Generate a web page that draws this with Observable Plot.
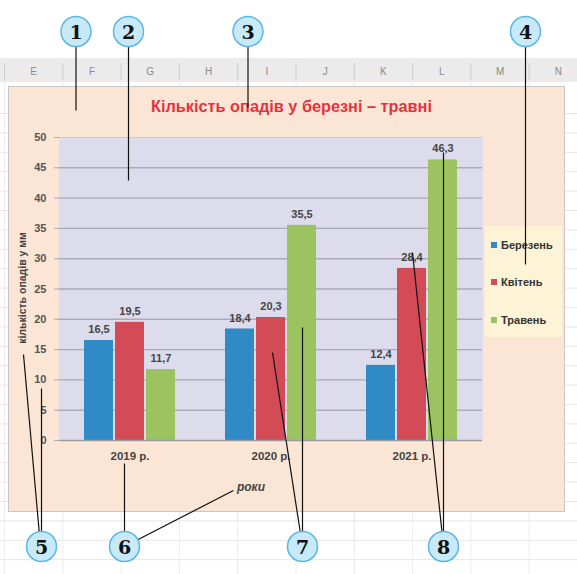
<!DOCTYPE html>
<html><head><meta charset="utf-8">
<script src="https://cdn.jsdelivr.net/npm/d3@7"></script>
<script src="https://cdn.jsdelivr.net/npm/@observablehq/plot@0.6"></script>
<style>
html,body{margin:0;padding:0;background:#fff;}
#page{position:relative;width:577px;height:574px;overflow:hidden;background:#fff;font-family:"Liberation Sans",Arial,sans-serif;}
#page > *{position:absolute;left:0;top:0;}
#area{left:8px !important;top:86px !important;width:555px;height:424px;background:#fbe5d5;border:1.5px solid #cbc6c1;}
#title{left:8px !important;top:97px !important;width:557px;text-align:center;padding-left:10px;box-sizing:border-box;color:#e3343e;font-weight:bold;font-size:16.3px;}
#ytitle{left:22px !important;top:288px !important;transform:translate(-50%,-50%) rotate(-90deg);white-space:nowrap;font-weight:bold;font-size:10.5px;color:#444;}
#xtitle{left:251px !important;top:487px !important;transform:translate(-50%,-50%);white-space:nowrap;font-weight:bold;font-style:italic;font-size:12px;color:#444;}
#legend{left:485px !important;top:226px !important;width:77px;height:111px;background:#fdf3d6;}
#legend .item{height:37.5px;display:flex;align-items:center;padding-left:6px;font-weight:bold;font-size:11px;color:#333;}
#legend .sw{width:6px;height:6px;margin-right:4px;}
</style></head><body><div id="page"></div>
<script>
// ---- data ----
const years = ["2019 р.", "2020 р.", "2021 р."];
const months = ["Березень", "Квітень", "Травень"];
const march = [16.5, 18.4, 12.4];
const april = [19.5, 20.3, 28.4];
const may = [11.7, 35.5, 46.3];
const yTicks = [0, 5, 10, 15, 20, 25, 30, 35, 40, 45, 50];
const monthColors = ["#2f8ac6", "#d24b57", "#9bc461"];
const columnLetters = ["E", "F", "G", "H", "I", "J", "K", "L", "M", "N"];
const chartTitle = "Кількість опадів у березні – травні";
const yTitle = "кількість опадів у мм";
const xTitle = "роки";
const calloutNumbers = ["1", "2", "3", "4", "5", "6", "7", "8"];

const series = [march, april, may];
const data = years.flatMap((year, i) => months.map((month, j) => ({year, month, value: series[j][i]})));
const fmt = v => v.toFixed(1).replace(".", ",");

const W = 577, H = 574;
const page = document.getElementById("page");

// ---- spreadsheet background ----
const colW = 58.3, col0 = 4;
const cols = columnLetters.map((c, i) => ({c, x0: col0 + i * colW, xm: col0 + (i + 0.5) * colW}));
const rows = d3.range(113, H, 19.4);
const bg = Plot.plot({
  width: W, height: H, margin: 0,
  x: {type: "identity", axis: null}, y: {type: "identity", axis: null},
  style: {background: "none", fontFamily: "Liberation Sans, Arial, sans-serif"},
  marks: [
    Plot.ruleY(rows, {y: d => d, stroke: "#e6e6e6"}),
    Plot.ruleX(cols, {x: "x0", y1: 82, y2: H, stroke: "#ececec"}),
    Plot.rect([0], {x1: 0, x2: W, y1: 58, y2: 82, fill: "#ebebeb"}),
    Plot.ruleX(cols, {x: "x0", y1: 63, y2: 80, stroke: "#cdcdcd"}),
    Plot.text(cols, {x: "xm", y: 71, text: "c", fill: "#8a8a8a", fontSize: 10})
  ]
});
page.appendChild(bg);

const area = document.createElement("div"); area.id = "area"; page.appendChild(area);

// ---- main chart ----
const chart = Plot.plot({
  width: W, height: H,
  marginLeft: 58, marginRight: 94, marginTop: 137, marginBottom: 134,
  style: {background: "none", fontFamily: "Liberation Sans, Arial, sans-serif", overflow: "visible"},
  fx: {domain: years, padding: 0, label: null},
  x: {domain: months, paddingInner: 0.06, paddingOuter: 0.745, axis: null},
  y: {domain: [0, 50], label: null},
  color: {domain: months, range: monthColors},
  marks: [
    Plot.frame({fill: "#dcdcec", stroke: "none", insetLeft: -0.5, insetRight: -0.5}),
    Plot.ruleY(yTicks.filter(t => t > 0 && t < 50), {stroke: "#a9a9b9", strokeWidth: 1.4}),
    Plot.ruleY([50], {stroke: "#c9c9d9"}),
    Plot.barY(data, {fx: "year", x: "month", y: "value", fill: "month"}),
    Plot.ruleY([0], {stroke: "#9b9b9b", strokeWidth: 1.5}),
    Plot.text(data, {fx: "year", x: "month", y: "value", text: d => fmt(d.value), dy: -11, fontWeight: "bold", fontSize: 11, fill: "#444"}),
    Plot.axisY({ticks: yTicks, tickSize: 5, tickFormat: () => "", stroke: "#a9a9b9", label: null}),
    Plot.axisY({ticks: yTicks, tickSize: 0, tickPadding: 13, fontWeight: "bold", fontSize: 11, fill: "#555", label: null}),
    Plot.axisFx({anchor: "bottom", tickSize: 0, tickPadding: 11, fontWeight: "bold", fontSize: 11.5, fill: "#444", label: null})
  ]
});
page.appendChild(chart);

// ---- texts ----
const t = document.createElement("div"); t.id = "title"; t.textContent = chartTitle; page.appendChild(t);
const yt = document.createElement("div"); yt.id = "ytitle"; yt.textContent = yTitle; page.appendChild(yt);
const xt = document.createElement("div"); xt.id = "xtitle"; xt.textContent = xTitle; page.appendChild(xt);

// ---- legend ----
const lg = document.createElement("div"); lg.id = "legend";
months.forEach((m, i) => {
  const it = document.createElement("div"); it.className = "item";
  const sw = document.createElement("span"); sw.className = "sw"; sw.style.background = monthColors[i];
  it.appendChild(sw); it.appendChild(document.createTextNode(m)); lg.appendChild(it);
});
page.appendChild(lg);

// ---- callouts ----
const circles = [
  {x: 75.5, y: 31}, {x: 128, y: 31}, {x: 247.5, y: 31}, {x: 525, y: 31},
  {x: 41, y: 546}, {x: 124, y: 546}, {x: 302, y: 546}, {x: 443, y: 546}
].map((c, i) => ({...c, n: calloutNumbers[i]}));
const lines = [
  [75.5, 31, 75.5, 110], [128, 31, 128, 180], [247.5, 31, 247.5, 107], [525, 31, 525, 264],
  [40, 546, 23, 354], [41, 546, 41, 388],
  [124, 546, 124, 463], [124, 546, 233, 490],
  [302, 546, 272, 352], [302, 546, 302, 327],
  [443, 546, 412, 252], [443, 546, 443, 152]
].map(([x1, y1, x2, y2]) => ({x1, y1, x2, y2}));
const ov = Plot.plot({
  width: W, height: H, margin: 0,
  x: {type: "identity", axis: null}, y: {type: "identity", axis: null},
  style: {background: "none"},
  marks: [
    Plot.link(lines, {x1: "x1", y1: "y1", x2: "x2", y2: "y2", stroke: "#111", strokeWidth: 1.2}),
    Plot.dot(circles, {x: "x", y: "y", r: 15, fill: "#c8e9f8", stroke: "#5ab8e6", strokeWidth: 1.5}),
    Plot.text(circles, {x: "x", y: "y", text: "n", fontFamily: "DejaVu Serif", fontWeight: "bold", fontSize: 19, fill: "#111", dy: 1})
  ]
});
page.appendChild(ov);
</script></body></html>
